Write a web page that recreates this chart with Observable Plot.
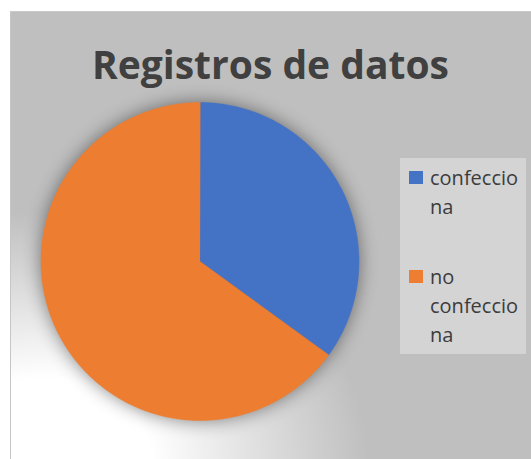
<!DOCTYPE html>
<html>
<head>
<meta charset="utf-8">
<script src="https://cdn.jsdelivr.net/npm/d3@7"></script>
<script src="https://cdn.jsdelivr.net/npm/@observablehq/plot@0.6"></script>
<style>
  html, body { margin: 0; padding: 0; background: #ffffff; }
  #wrap { position: relative; width: 531px; height: 459px; overflow: hidden; background: #ffffff; }
  #panel { position: absolute; left: 10px; top: 11px; right: 0; bottom: 0;
    border-left: 1.5px solid #c6c6c6; border-top: 1px solid #c9c9c9;
    background: radial-gradient(ellipse 350px 270px at 35px 448px, #ffffff 0%, #ffffff 30%, #bfbfbf 92%); }
  #chart { position: absolute; left: 0; top: 0; }
  #title { position: absolute; left: 10px; width: 521px; top: 43.5px; text-align: center;
    font: bold 39px "Open Sans", sans-serif; line-height: 1; color: #404040; white-space: nowrap; }
  #legend { position: absolute; left: 400px; top: 158px; width: 126px; height: 196px; background: #d4d4d4; }
  .item { position: absolute; left: 0; }
  .sw { position: absolute; left: 9px; width: 14px; height: 13px; }
  .lab { position: absolute; left: 30px; font: 20px "Open Sans", sans-serif; line-height: 29px; color: #3c3c3c; white-space: nowrap; }
  .pie { filter: drop-shadow(0 0 9px rgba(0,0,0,0.45)); }
</style>
</head>
<body>
<div id="wrap">
  <div id="panel"></div>
  <div id="chart"></div>
  <div id="title"></div>
  <div id="legend"></div>
</div>
<script>
const titleText = "Registros de datos";
const categories = ["confecciona", "no confecciona"];
const values = [35, 65];
const colors = ["#4472c4", "#ed7d31"];
const legendLines = [["confeccio", "na"], ["no", "confeccio", "na"]];

document.getElementById("title").textContent = titleText;

// slice outlines from the data via d3.pie (clockwise from 12 o'clock)
const arcs = d3.pie().sort(null).value(d => d.value)(categories.map((c, i) => ({cat: c, value: values[i]})));
const pts = [];
for (const a of arcs) {
  const n = Math.max(2, Math.ceil((a.endAngle - a.startAngle) / (Math.PI / 180)));
  pts.push({cat: a.data.cat, x: 0, y: 0});
  for (let k = 0; k <= n; k++) {
    const t = a.startAngle + (a.endAngle - a.startAngle) * k / n;
    pts.push({cat: a.data.cat, x: Math.sin(t), y: Math.cos(t)});
  }
}

const chart = Plot.plot({
  width: 531,
  height: 459,
  marginLeft: 40.5,
  marginRight: 172.5,
  marginTop: 102,
  marginBottom: 39,
  style: {background: "transparent", overflow: "visible"},
  x: {domain: [-1, 1], axis: null},
  y: {domain: [-1, 1], axis: null},
  color: {domain: categories, range: colors},
  marks: [
    Plot.line(pts, {x: "x", y: "y", z: "cat", fill: "cat", stroke: "cat", strokeWidth: 0.5, curve: "linear-closed", className: "pie"})
  ]
});
document.getElementById("chart").appendChild(chart);

// legend
const legend = document.getElementById("legend");
const itemTops = [5, 104];
categories.forEach((c, i) => {
  const item = document.createElement("div");
  item.className = "item";
  item.style.top = itemTops[i] + "px";
  const sw = document.createElement("div");
  sw.className = "sw";
  sw.style.top = "8px";
  sw.style.background = chart.scale("color").apply(c);
  item.appendChild(sw);
  legendLines[i].forEach((t, j) => {
    const l = document.createElement("div");
    l.className = "lab";
    l.style.top = (j * 29) + "px";
    l.textContent = t;
    item.appendChild(l);
  });
  legend.appendChild(item);
});
</script>
</body>
</html>
